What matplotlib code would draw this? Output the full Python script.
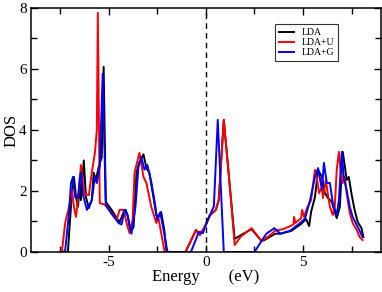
import matplotlib
matplotlib.use("Agg")
import matplotlib.pyplot as plt
import numpy as np

plt.rcParams['font.family'] = ['Liberation Serif', 'DejaVu Serif']
plt.rcParams['axes.unicode_minus'] = False

# LDA (black)
e_lda = [-7.3, -7.1, -7.0, -6.89, -6.79, -6.68, -6.58, -6.48, -6.43, -6.28, -6.17, -6.02,
         -5.87, -5.77, -5.66, -5.51, -5.36, -5.26, -5.15, -4.85, -4.59, -4.44, -4.23, -4.13,
         -4.03, -3.88, -3.72, -3.57, -3.42, -3.21, -3.06, -2.91, -2.7, -2.55, -2.45, -2.3,
         -2.14, -2.04, -1.98, -1.05, -0.51, -0.31, 0.0, 0.2, 0.51, 0.66, 0.92, 1.28, 1.48,
         1.79, 2.35, 2.86, 3.01, 3.57, 3.83, 4.39, 4.9, 5.15, 5.31, 5.41, 5.61, 5.77, 5.97,
         6.12, 6.28, 6.48, 6.63, 6.73, 6.89, 7.04, 7.14, 7.24, 7.35, 7.5, 7.65, 7.81, 8.0, 8.1]
dos_lda = [0, 0, 0.95, 1.93, 2.46, 1.8, 1.48, 2.26, 1.7, 3.0, 1.8, 1.44,
           1.7, 2.6, 2.36, 2.8, 3.1, 6.07, 1.64, 1.38, 1.11, 0.98, 1.31, 1.38,
           1.21, 0.66, 0.82, 2.6, 2.95, 3.2, 2.75, 2.6, 1.8, 1.21, 1.15, 1.31,
           0.72, 0.07, 0, 0, 0.72, 0.56, 0.89, 1.2, 1.38, 1.7, 4.33, 1.8, 0.43,
           0.55, 0.75, 0.36, 0.39, 0.6, 0.6, 0.69, 0.92, 1.08, 0.85, 1.31, 1.8, 2.69, 2.46,
           1.93, 1.77, 1.64, 1.31, 1.11, 1.48, 3.28, 2.85, 2.36, 2.46, 1.87, 1.38, 0.98, 0.79, 0.49]

# LDA+U (red)
e_u = [-7.5, -7.4, -7.24, -7.04, -6.89, -6.79, -6.68, -6.53, -6.43, -6.33, -6.22, -6.02,
       -5.87, -5.71, -5.61, -5.56, -5.46, -5.2, -4.85, -4.59, -4.44, -4.23, -4.08, -3.93,
       -3.77, -3.67, -3.42, -3.21, -3.06, -2.81, -2.55, -2.45, -2.3, -2.14, -2.1, -1.05,
       -0.51, -0.31, 0.0, 0.2, 0.51, 0.66, 0.92, 1.28, 1.48, 1.79, 2.35, 2.86, 3.3, 3.57,
       3.98, 4.34, 4.5, 4.54, 4.6, 4.9, 4.95, 5.05, 5.2, 5.41, 5.61, 5.71, 5.82, 5.97, 6.02,
       6.17, 6.28, 6.38, 6.53, 6.63, 6.73, 6.84, 6.94, 7.04, 7.14, 7.24, 7.4, 7.55, 7.76,
       7.91, 8.06]
dos_u = [0, 0.05, 0.95, 1.48, 2.03, 1.48, 1.15, 2.03, 2.85, 2.26, 1.87, 1.87,
         2.6, 3.25, 4.0, 7.84, 1.6, 1.55, 1.28, 1.05, 1.38, 1.38, 0.95, 0.62,
         1.05, 2.6, 3.25, 2.46, 2.26, 1.48, 0.95, 1.15, 0.62, 0.07, 0, 0,
         0.72, 0.56, 0.89, 1.2, 1.38, 1.7, 4.33, 1.8, 0.23, 0.5, 0.78, 0.36, 0.55, 0.7,
         0.75, 0.85, 0.9, 1.15, 0.95, 1.11, 1.38, 1.15, 1.44, 1.7, 2.69, 2.43, 1.93, 2.13, 1.77,
         2.36, 1.87, 1.48, 1.21, 1.48, 2.69, 3.28, 2.6, 2.26, 2.46, 1.93, 1.28, 0.95, 0.72,
         0.49, 0.39]

# LDA+G (blue)
e_g = [-7.35, -7.24, -7.04, -6.94, -6.84, -6.73, -6.58, -6.48, -6.43, -6.33, -6.12, -5.87,
       -5.71, -5.61, -5.46, -5.31, -5.15, -4.85, -4.49, -4.34, -4.18, -4.03, -3.83, -3.62,
       -3.47, -3.32, -3.16, -3.01, -2.81, -2.65, -2.5, -2.35, -2.14, -1.99, -1.95, -0.77,
       -0.36, -0.15, 0.0, 0.2, 0.41, 0.61, 0.92, 2.5, 2.86, 3.11, 3.52, 3.83, 4.34, 4.85,
       5.1, 5.36, 5.61, 5.77, 5.97, 6.07, 6.22, 6.38, 6.53, 6.73, 6.84, 6.99, 7.09, 7.24,
       7.4, 7.55, 7.81, 8.06]
dos_g = [0, 0.05, 1.28, 2.26, 2.46, 1.8, 1.77, 2.46, 2.6, 1.9, 1.38, 1.7,
         2.46, 2.26, 2.8, 5.84, 1.54, 1.25, 0.95, 0.9, 1.38, 1.2, 0.6, 1.5,
         2.8, 3.1, 2.7, 2.85, 2.3, 1.7, 1.05, 1.3, 0.6, 0.05, 0, 0,
         0.66, 0.62, 0.9, 1.2, 1.5, 4.33, 0, 0, 0.36, 0.6, 0.78, 0.6, 0.7, 0.95,
         1.1, 1.7, 2.46, 2.75, 2.03, 2.92, 2.26, 2.26, 1.6, 1.21, 1.7, 3.28, 2.46, 2.03,
         1.48, 1.15, 0.82, 0.49]

fig = plt.figure(figsize=(3.82, 2.92), dpi=100)
ax = fig.add_axes([0.081, 0.137, 0.916, 0.836])

ax.plot(e_lda, dos_lda, color='black', lw=1.4, label='LDA')
ax.plot(e_u, dos_u, color='red', lw=1.4, label='LDA+U')
ax.plot(e_g, dos_g, color='blue', lw=1.4, label='LDA+G')
ax.axvline(0, color='black', lw=1.0, dashes=(4, 3))

ax.set_xlim(-9, 9)
ax.set_ylim(0, 8)
ax.set_xticks([-5, 0, 5])
ax.set_xticks([-7.5, -2.5, 2.5, 7.5], minor=True)
ax.set_yticks([0, 2, 4, 6, 8])
ax.set_yticks([1, 3, 5, 7], minor=True)
ax.tick_params(which='both', direction='in', top=True, right=True, labelsize=11, width=1)
ax.tick_params(which='major', length=5, pad=3)
ax.tick_params(which='minor', length=4)
for sp in ax.spines.values():
    sp.set_linewidth(1.1)
    sp.set_zorder(3)

ax.set_xlabel("Energy       (eV)", fontsize=12, labelpad=0)
ax.set_ylabel("DOS", fontsize=12, labelpad=0)

leg = ax.legend(loc='upper left', bbox_to_anchor=(0.697, 0.932), fontsize=7, frameon=True,
                fancybox=False, edgecolor='black', handlelength=1.6, borderpad=0.4,
                labelspacing=0.1, handletextpad=0.8, borderaxespad=0)
leg.get_frame().set_linewidth(0.8)

fig.savefig("out.png", dpi=100)
